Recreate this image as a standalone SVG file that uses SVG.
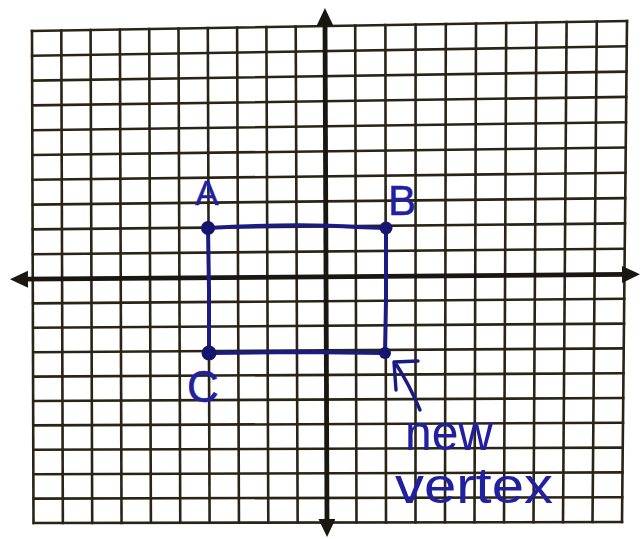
<svg xmlns="http://www.w3.org/2000/svg" width="641" height="539" viewBox="0 0 641 539">
<style>
.g{stroke:#2a2416;stroke-width:2.6;fill:none;stroke-linecap:square}
.ax{stroke:#1a1610;stroke-width:4.8;fill:none}
.ink{stroke:#1b1b82;stroke-width:4;fill:none;stroke-linecap:round;stroke-linejoin:round}
.dot{fill:#16166e}
.lbl{font-family:"Liberation Sans","DejaVu Sans",sans-serif;fill:#2020a0}
.pt{stroke:#2020a0;stroke-width:0.5}
</style>
<defs>
<marker id="ah" markerUnits="userSpaceOnUse" markerWidth="20" markerHeight="18" refX="4" refY="8.5" orient="auto-start-reverse">
<path d="M0,0 L18,8.5 L0,17 Z" fill="#1a1610"/>
</marker>
</defs>
<rect width="641" height="539" fill="#ffffff"/>
<g id="grid" class="g">
<line x1="32" y1="31" x2="33.5" y2="523"/>
<line x1="61.3" y1="30.5" x2="62.85" y2="523"/>
<line x1="90.6" y1="30" x2="92.2" y2="522.9"/>
<line x1="119.9" y1="29.5" x2="121.55" y2="522.85"/>
<line x1="149.2" y1="29" x2="150.9" y2="522.8"/>
<line x1="178.5" y1="28.5" x2="180.25" y2="522.75"/>
<line x1="207.8" y1="28" x2="209.6" y2="522.7"/>
<line x1="237.1" y1="27.6" x2="238.95" y2="522.65"/>
<line x1="266.4" y1="27.1" x2="268.3" y2="522.6"/>
<line x1="295.7" y1="26.6" x2="297.65" y2="522.55"/>
<line x1="355.2" y1="25.6" x2="356.5" y2="522.4"/>
<line x1="385.4" y1="25.1" x2="386" y2="522.4"/>
<line x1="415.6" y1="24.55" x2="415.5" y2="522.35"/>
<line x1="445.8" y1="24.05" x2="445" y2="522.3"/>
<line x1="476" y1="23.5" x2="474.5" y2="522.25"/>
<line x1="506.2" y1="23" x2="504" y2="522.2"/>
<line x1="536.4" y1="22.5" x2="533.5" y2="522.15"/>
<line x1="566.6" y1="22" x2="563" y2="522.1"/>
<line x1="596.8" y1="21.5" x2="592.5" y2="522.05"/>
<line x1="627" y1="21" x2="622" y2="522"/>
<line x1="32" y1="31" x2="627" y2="21"/>
<line x1="32.1" y1="55.8" x2="626.75" y2="46.3"/>
<line x1="32.2" y1="80.6" x2="626.5" y2="71.6"/>
<line x1="32.3" y1="105.4" x2="626.25" y2="96.9"/>
<line x1="32.4" y1="130.2" x2="626" y2="122.2"/>
<line x1="32.5" y1="155" x2="625.75" y2="147.5"/>
<line x1="32.6" y1="179.8" x2="625.5" y2="172.8"/>
<line x1="32.7" y1="204.6" x2="625.2" y2="198.1"/>
<line x1="32.8" y1="229.4" x2="625" y2="223.4"/>
<line x1="32.9" y1="254.2" x2="624.7" y2="248.7"/>
<line x1="33.1" y1="303.4" x2="624.2" y2="298.8"/>
<line x1="33.2" y1="327.8" x2="624" y2="323.6"/>
<line x1="33.3" y1="352.2" x2="623.7" y2="348.4"/>
<line x1="33.4" y1="376.6" x2="623.5" y2="373.2"/>
<line x1="33.5" y1="401" x2="623.2" y2="398"/>
<line x1="33.6" y1="425.4" x2="623" y2="422.8"/>
<line x1="33.7" y1="449.8" x2="622.7" y2="447.6"/>
<line x1="33.8" y1="474.2" x2="622.5" y2="472.4"/>
<line x1="33.9" y1="498.6" x2="622.2" y2="497.2"/>
<line x1="34" y1="523" x2="622" y2="522"/>
</g>
<g id="axes" class="ax">
<line id="x-axis" x1="24" y1="279.2" x2="626" y2="274.4" marker-start="url(#ah)" marker-end="url(#ah)"/>
<line id="y-axis" x1="325" y1="22" x2="327" y2="523" marker-start="url(#ah)" marker-end="url(#ah)"/>
</g>
<g id="connectors">
<path id="rectangle" class="ink" d="M208,228 Q300,223 356,227 L386,228 L386,300 L385,353 L300,352 L209,353 L209,290 Z"/>
<path id="pointer-arrow" class="ink" style="stroke-width:3.4" d="M418,361 L394,362 M394,362 L396,390 M396,364 Q409,384 420,410"/>
</g>
<g id="node-A">
<circle class="dot" cx="208" cy="228" r="7"/>
<text class="lbl pt" x="207" y="205" font-size="35" text-anchor="middle">A</text>
</g>
<g id="node-B">
<circle class="dot" cx="386" cy="228" r="6.5"/>
<text class="lbl pt" x="402" y="215" font-size="42" text-anchor="middle">B</text>
</g>
<g id="node-C">
<circle class="dot" cx="209" cy="353" r="7.5"/>
<text class="lbl pt" x="203" y="402" font-size="44" text-anchor="middle">C</text>
</g>
<g id="node-new-vertex">
<circle class="dot" cx="385" cy="353" r="6"/>
<text class="lbl" x="405" y="450" font-size="50" textLength="88" lengthAdjust="spacingAndGlyphs">new</text>
<text class="lbl" x="395" y="503" font-size="50" textLength="158" lengthAdjust="spacingAndGlyphs">vertex</text>
</g>
</svg>
